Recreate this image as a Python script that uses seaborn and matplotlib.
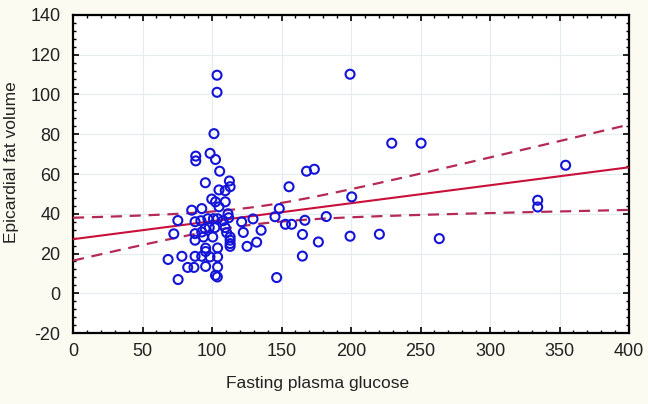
import numpy as np
import pandas as pd
import matplotlib
matplotlib.use("Agg")
import matplotlib.pyplot as plt
import seaborn as sns
from matplotlib.ticker import MultipleLocator

# ---- data ----
glucose = [103.6, 103.6, 199.3, 229.3, 250.4, 354.4, 334.3, 334.3, 263.5, 220.4, 199.3, 200.5,
           101.4, 88.3, 88.3, 98.6, 102.5, 105.5, 95.2, 112.5, 113.0, 105.0, 109.5,
           155.4, 168.0, 173.6,
           99.8, 102.5, 109.5, 105.0,
           85.4, 92.6, 111.5, 148.4, 145.3,
           75.4, 87.8, 92.0, 97.0, 101.0, 104.0, 108.0, 112.0,
           121.3, 129.5, 152.8, 157.3, 166.8, 182.2,
           72.5, 87.8, 92.6, 95.0, 98.0, 102.0, 109.5, 100.5, 110.5, 113.0,
           122.5, 135.3, 165.1, 87.8, 93.8,
           113.0, 113.0, 113.0, 125.2, 132.1, 176.5,
           95.4, 95.4, 104.0,
           68.4, 78.3, 87.8, 92.6, 98.5, 104.0,
           82.5, 87.0, 95.4, 104.0,
           75.6, 102.5, 103.8, 146.5, 165.0]
fat_volume = [109.7, 101.1, 110.2, 75.5, 75.5, 64.4, 46.8, 43.4, 27.5, 29.7, 28.7, 48.5,
              80.3, 69.0, 66.6, 70.4, 67.3, 61.4, 55.6, 56.5, 53.6, 52.0, 51.6,
              53.6, 61.4, 62.4,
              47.4, 46.0, 46.0, 43.5,
              41.8, 42.6, 40.0, 42.6, 38.5,
              36.6, 36.0, 36.5, 37.5, 37.5, 37.5, 36.5, 38.0,
              35.9, 37.4, 34.7, 34.7, 36.7, 38.6,
              29.9, 30.0, 30.8, 32.5, 33.0, 33.0, 33.0, 28.3, 30.5, 28.3,
              30.6, 31.7, 29.6, 26.7, 28.3,
              26.7, 25.0, 23.6, 23.6, 25.7, 25.8,
              22.7, 21.0, 22.8,
              17.0, 18.6, 18.6, 18.6, 18.3, 18.3,
              13.0, 13.0, 13.5, 13.2,
              6.9, 9.0, 8.2, 7.9, 18.7]

x_ticks = [0, 50, 100, 150, 200, 250, 300, 350, 400]
y_ticks = [-20, 0, 20, 40, 60, 80, 100, 120, 140]
x_label = "Fasting plasma glucose"
y_label = "Epicardial fat volume"

df = pd.DataFrame({"glucose": glucose, "fat": fat_volume})

# linear fit and 95% confidence band for the mean
x = df["glucose"].to_numpy()
y = df["fat"].to_numpy()
n = len(x)
slope, intercept = np.polyfit(x, y, 1)
resid = y - (intercept + slope * x)
s = np.sqrt(np.sum(resid ** 2) / (n - 2))
sxx = np.sum((x - x.mean()) ** 2)
t = 1.984
xs = np.linspace(0, 400, 200)
fit = intercept + slope * xs
half = t * s * np.sqrt(1 / n + (xs - x.mean()) ** 2 / sxx)
fit_df = pd.DataFrame({"x": xs, "fit": fit, "lo": fit - half, "hi": fit + half})

sns.set_theme(style="white")
plt.rcParams["font.family"] = ["Liberation Sans", "DejaVu Sans"]
plt.rcParams["axes.unicode_minus"] = False

bg = "#fbfbf1"
fig = plt.figure(figsize=(6.48, 4.04), dpi=100, facecolor=bg)
ax = fig.add_axes([0.1127, 0.1757, 0.858, 0.7872])
ax.set_facecolor("white")

ax.grid(True, color="#e3ecf0", linewidth=0.8)
ax.set_axisbelow(True)

line_col = "#c8103a"
band_col = "#b52a55"
sns.lineplot(data=fit_df, x="x", y="fit", ax=ax, color=line_col, linewidth=1.5, zorder=3)
sns.lineplot(data=fit_df, x="x", y="hi", ax=ax, color=band_col, linewidth=1.6,
             linestyle=(0, (5, 3.5)), zorder=3)
sns.lineplot(data=fit_df, x="x", y="lo", ax=ax, color=band_col, linewidth=1.6,
             linestyle=(0, (5, 3.5)), zorder=3)

sns.scatterplot(data=df, x="glucose", y="fat", ax=ax, marker="o", s=42,
                facecolors="none", edgecolor="#1414d8", linewidth=1.5, zorder=4)

ax.set_xlim(0, 400)
ax.set_ylim(-20, 140)
ax.set_xticks(x_ticks)
ax.set_yticks(y_ticks)
ax.set_xticklabels([str(v) for v in x_ticks])
ax.set_yticklabels([str(v) for v in y_ticks])
ax.xaxis.set_minor_locator(MultipleLocator(10))
ax.yaxis.set_minor_locator(MultipleLocator(4))
ax.tick_params(axis="both", which="both", direction="in", top=True, right=True,
               bottom=True, left=True, colors="black")
ax.tick_params(which="major", length=4, width=1.2, labelsize=13, labelcolor="#222222")
ax.tick_params(which="minor", length=2.5, width=1.0)
ax.tick_params(axis="x", pad=7)
ax.tick_params(axis="y", pad=9)
for sp in ax.spines.values():
    sp.set_visible(True)
    sp.set_color("black")
    sp.set_linewidth(1.6)

ax.set_xlabel(x_label, fontsize=12.5, color="#222222")
ax.set_ylabel(y_label, fontsize=12.5, color="#222222")
ax.xaxis.set_label_coords(0.439, -0.135)
ax.yaxis.set_label_coords(-0.097, 0.538)

fig.savefig("out.png", dpi=100, facecolor=bg)
